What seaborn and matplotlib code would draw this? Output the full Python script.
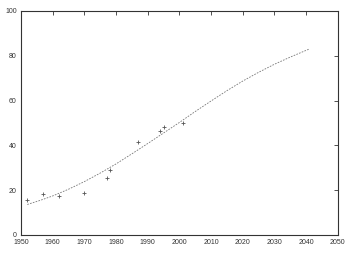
import matplotlib
matplotlib.use("Agg")
import matplotlib.pyplot as plt
import seaborn as sns
import pandas as pd

obs_years = [1952, 1957, 1962, 1970, 1977, 1978, 1987, 1994, 1995, 2001]
obs_values = [15.8, 18.1, 17.2, 18.8, 25.3, 29.1, 41.4, 46.6, 48.3, 50.1]

fit_years = [1952, 1956, 1960, 1965, 1970, 1975, 1980, 1985, 1990, 1995, 2000,
             2005, 2010, 2015, 2020, 2025, 2030, 2035, 2041]
fit_values = [13.6, 15.4, 17.4, 20.4, 23.8, 27.6, 31.7, 36.2, 40.8, 45.5, 50.2,
              55.1, 59.8, 64.4, 68.7, 72.6, 76.2, 79.4, 83.0]

x_ticks = list(range(1950, 2051, 10))
y_ticks = list(range(0, 101, 20))

sns.set_style("white")
plt.rcParams['font.family'] = ['Liberation Sans', 'DejaVu Sans']

fig = plt.figure(figsize=(3.49, 2.54), dpi=100)
ax = fig.add_axes([0.060, 0.075, 0.908, 0.882])

fit_df = pd.DataFrame({"year": fit_years, "value": fit_values})
obs_df = pd.DataFrame({"year": obs_years, "value": obs_values})

sns.lineplot(data=fit_df, x="year", y="value", ax=ax, color="#777777",
             linewidth=0.6, linestyle=(0, (2, 1.5)))
sns.scatterplot(data=obs_df, x="year", y="value", ax=ax, marker="+",
                color="#555555", s=8, linewidth=0.6)

ax.set_xlim(1950, 2050)
ax.set_ylim(0, 100)
ax.set_xticks(x_ticks)
ax.set_yticks(y_ticks)
ax.set_xlabel("")
ax.set_ylabel("")
ax.tick_params(direction="in", length=3, width=0.6, labelsize=5,
               top=True, right=True, colors="#333333")
ax.tick_params(axis="x", pad=3)
ax.tick_params(axis="y", pad=3)
for s in ax.spines.values():
    s.set_linewidth(0.8)
    s.set_color("#333333")

fig.savefig("out.png", dpi=100)
